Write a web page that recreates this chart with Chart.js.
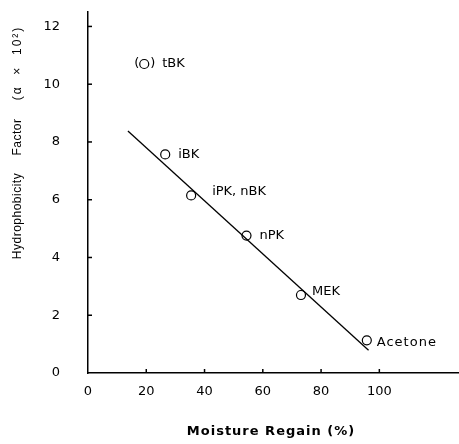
<!DOCTYPE html>
<html>
<head>
<meta charset="utf-8">
<script src="https://cdn.jsdelivr.net/npm/chart.js@4/dist/chart.umd.min.js"></script>
<style>
  html, body { margin: 0; padding: 0; background: #fff; }
  #wrap { width: 459px; height: 444px; }
</style>
</head>
<body>
<div id="wrap"><canvas id="myChart" width="459" height="444"></canvas></div>
<script>
// data
const solvents = ["tBK", "iBK", "iPK, nBK", "nPK", "MEK", "Acetone"];
const regain = [19.3, 26.5, 35.4, 54.4, 73.1, 95.7];
const factor = [10.7, 7.57, 6.15, 4.76, 2.70, 1.13];
const fitX = [13.7, 96.3];
const fitY = [8.38, 0.79];
const xTicks = [0, 20, 40, 60, 80, 100];
const yTicks = [0, 2, 4, 6, 8, 10, 12];

const FONT = "'DejaVu Sans', sans-serif";
const TITLE_FONT = "'Liberation Sans', Arial, sans-serif";

// inward tick marks, point labels and axis titles
const decor = {
  id: "decor",
  afterDraw(chart) {
    const ctx = chart.ctx;
    const x = chart.scales.x, y = chart.scales.y;
    ctx.save();
    ctx.strokeStyle = "#000";
    ctx.lineWidth = 1.5;
    xTicks.forEach(v => {
      if (v === 0) return;
      const px = x.getPixelForValue(v);
      ctx.beginPath();
      ctx.moveTo(px, y.bottom);
      ctx.lineTo(px, y.bottom - 4);
      ctx.stroke();
    });
    yTicks.forEach(v => {
      if (v === 0) return;
      const py = y.getPixelForValue(v);
      ctx.beginPath();
      ctx.moveTo(x.left, py);
      ctx.lineTo(x.left + 4, py);
      ctx.stroke();
    });

    ctx.fillStyle = "#000";
    ctx.font = "13px " + FONT;
    ctx.textBaseline = "middle";
    ctx.textAlign = "left";
    const meta = chart.getDatasetMeta(1);
    meta.data.forEach((pt, i) => {
      const name = solvents[i];
      if (name === "tBK") {
        ctx.textAlign = "right";
        ctx.fillText("(", pt.x - 5, pt.y);
        ctx.textAlign = "left";
        ctx.fillText(")", pt.x + 6, pt.y);
        ctx.fillText(name, pt.x + 18, pt.y);
      } else if (name === "iPK, nBK") {
        ctx.fillText(name, pt.x + 21, pt.y - 4);
      } else if (name === "MEK") {
        ctx.fillText(name, pt.x + 11, pt.y - 3);
      } else if (name === "Acetone") {
        ctx.letterSpacing = "1px";
        ctx.fillText(name, pt.x + 10, pt.y + 2);
        ctx.letterSpacing = "0px";
      } else {
        ctx.fillText(name, pt.x + 13, pt.y);
      }
    });

    // x axis title
    ctx.textAlign = "center";
    ctx.font = "bold 13px " + FONT;
    ctx.letterSpacing = "1px";
    ctx.fillText("Moisture Regain (%)", 271, 432);

    // y axis title
    ctx.translate(18, 0);
    ctx.rotate(-Math.PI / 2);
    ctx.font = "12px " + TITLE_FONT;
    ctx.letterSpacing = "0.5px";
    ctx.fillText("Hydrophobicity", -216, 0);
    ctx.fillText("Factor", -137, 0);
    ctx.letterSpacing = "2px";
    ctx.fillText("(\u03b1  \u00d7  10\u00b2)", -63, 0);
    ctx.restore();
  }
};

new Chart(document.getElementById("myChart"), {
  type: "scatter",
  data: {
    datasets: [
      {
        label: "fit",
        data: fitX.map((v, i) => ({ x: v, y: fitY[i] })),
        showLine: true,
        borderColor: "#000",
        borderWidth: 1.3,
        pointRadius: 0
      },
      {
        label: "solvents",
        data: regain.map((v, i) => ({ x: v, y: factor[i] })),
        pointRadius: 4.5,
        pointBorderWidth: 1.2,
        pointBorderColor: "#000",
        pointBackgroundColor: "#fff"
      }
    ]
  },
  options: {
    responsive: false,
    animation: false,
    layout: { autoPadding: false, padding: { top: 12, right: 1, left: 0, bottom: 0 } },
    plugins: { legend: { display: false }, tooltip: { enabled: false } },
    scales: {
      x: {
        type: "linear",
        min: 0,
        max: 127,
        afterBuildTicks: s => { s.ticks = xTicks.map(v => ({ value: v })); },
        afterFit: s => { s.height = 71; s.paddingLeft = 0; s.paddingRight = 0; },
        grid: { display: false, drawTicks: false },
        border: { display: true, color: "#000", width: 1.5 },
        ticks: { color: "#000", padding: 11, font: { family: FONT, size: 13 }, maxRotation: 0 }
      },
      y: {
        type: "linear",
        min: 0,
        max: 12.5,
        afterBuildTicks: s => { s.ticks = yTicks.map(v => ({ value: v })); },
        afterFit: s => { s.width = 88; s.paddingTop = 0; s.paddingBottom = 0; },
        grid: { display: false, drawTicks: false },
        border: { display: true, color: "#000", width: 1.5 },
        ticks: { color: "#000", padding: 28, font: { family: FONT, size: 13 } }
      }
    }
  },
  plugins: [decor]
});
</script>
</body>
</html>
